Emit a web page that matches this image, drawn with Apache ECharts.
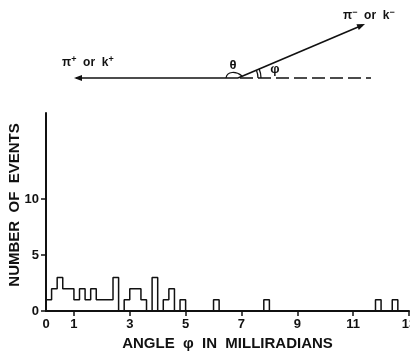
<!DOCTYPE html>
<html>
<head>
<meta charset="utf-8">
<script src="https://cdn.jsdelivr.net/npm/echarts@6/dist/echarts.min.js"></script>
<style>
  html, body { margin: 0; padding: 0; background: #fff; }
  #chart { width: 410px; height: 351px; }
</style>
</head>
<body>
<div id="chart"></div>
<script>
// Histogram of the opening angle φ (milliradians), 0.2 mrad bins.
const binWidth = 0.2;
const binStarts = [0, 0.2, 0.4, 0.6, 0.8, 1.0, 1.2, 1.4, 1.6, 1.8, 2.0, 2.2, 2.4,
                   2.8, 3.0, 3.2, 3.4, 3.8, 4.2, 4.4, 4.8, 6.0, 7.8, 11.8, 12.4];
const eventCounts = [1, 2, 3, 2, 2, 1, 2, 1, 2, 1, 1, 1, 3,
                     1, 2, 2, 1, 3, 1, 2, 1, 1, 1, 1, 1];

const xMin = 0, xMax = 13;
const xTickValues = [1, 3, 5, 7, 9, 11, 13];
const xLabelValues = [0, 1, 3, 5, 7, 9, 11, 13];
const yMax = 17.7;
const yTickValues = [0, 5, 10];
const yLabelValues = [0, 5, 10];

// Build the histogram outline as a step line over every bin edge.
const nBins = Math.round((xMax - xMin) / binWidth);
const countByBin = {};
binStarts.forEach((b, i) => { countByBin[Math.round(b / binWidth)] = eventCounts[i]; });
const outline = [];
for (let k = 0; k < nBins; k++) {
  const x = +(xMin + k * binWidth).toFixed(4);
  outline.push([x, countByBin[k] || 0]);
}
outline.push([xMax, 0]);

const FONT = '"Liberation Sans", Arial, sans-serif';

// Decay sketch above the histogram
const vx = 238, vy = 78;           // vertex
const tipR = [365, 24];            // π⁻ / k⁻ track tip
const tipL = [74, 78];             // π⁺ / k⁺ track tip
const ang = Math.atan2(tipR[1] - vy, tipR[0] - vx);

function arrowHead(tip, a, len, half) {
  const bx = tip[0] - len * Math.cos(a), by = tip[1] - len * Math.sin(a);
  const nx = -Math.sin(a), ny = Math.cos(a);
  return [[tip[0], tip[1]], [bx + half * nx, by + half * ny], [bx - half * nx, by - half * ny]];
}

const ink = '#111';
const supStyle = { fontSize: 9, fontWeight: 'bold', fontFamily: FONT, verticalAlign: 'top', padding: [0, 0, 7, 0] };
const sketch = [
  { type: 'line', shape: { x1: tipL[0] + 2, y1: tipL[1], x2: vx, y2: vy }, style: { stroke: ink, lineWidth: 1.6 } },
  { type: 'polygon', shape: { points: arrowHead(tipL, Math.PI, 8, 3) }, style: { fill: ink } },
  { type: 'line', shape: { x1: vx, y1: vy, x2: tipR[0] - 3 * Math.cos(ang), y2: tipR[1] - 3 * Math.sin(ang) }, style: { stroke: ink, lineWidth: 1.6 } },
  { type: 'polygon', shape: { points: arrowHead(tipR, ang, 8, 3) }, style: { fill: ink } },
  { type: 'line', shape: { x1: vx + 2, y1: vy, x2: 371, y2: vy }, style: { stroke: ink, lineWidth: 1.4, lineDash: [13, 5] } },
  // θ arc
  { type: 'bezierCurve', shape: { x1: 226, y1: 78, cpx1: 227, cpy1: 71, cpx2: 236, cpy2: 71, x2: 242, y2: 76 }, style: { stroke: ink, lineWidth: 1.2, fill: null } },
  // φ double arc
  { type: 'arc', shape: { cx: vx, cy: vy, r: 20, startAngle: ang, endAngle: 0 }, style: { stroke: ink, lineWidth: 1.3, fill: null } },
  { type: 'arc', shape: { cx: vx, cy: vy, r: 23, startAngle: ang, endAngle: 0 }, style: { stroke: ink, lineWidth: 1.3, fill: null } },
  { type: 'text', x: 233, y: 65, style: { text: 'θ', font: 'bold 13px ' + FONT, fill: ink, align: 'center', verticalAlign: 'middle' } },
  { type: 'text', x: 275, y: 69, style: { text: 'φ', font: 'bold 13px ' + FONT, fill: ink, align: 'center', verticalAlign: 'middle' } },
  { type: 'text', x: 62, y: 63, style: {
      text: 'π{s|+}  or  k{s|+}', fill: ink, font: 'bold 12px ' + FONT, verticalAlign: 'middle',
      rich: { s: supStyle } } },
  { type: 'text', x: 343, y: 16, style: {
      text: 'π{s|−}  or  k{s|−}', fill: ink, font: 'bold 12px ' + FONT, verticalAlign: 'middle',
      rich: { s: supStyle } } },
  // y-axis title
  { type: 'text', x: 15, y: 205, rotation: Math.PI / 2, style: {
      text: 'NUMBER  OF  EVENTS', font: 'bold 15px ' + FONT, fill: ink, align: 'center', verticalAlign: 'middle' } }
];

const chart = echarts.init(document.getElementById('chart'), null, { renderer: 'canvas' });
chart.setOption({
  animation: false,
  backgroundColor: '#fff',
  grid: { left: 46, right: 1, top: 113, bottom: 40, containLabel: false, outerBoundsMode: 'none' },
  xAxis: {
    type: 'value', min: xMin, max: xMax,
    axisLine: { show: true, lineStyle: { color: ink, width: 2 } },
    axisTick: { show: true, customValues: xTickValues, length: 5, lineStyle: { color: ink, width: 1.5 } },
    axisLabel: { customValues: xLabelValues, color: ink, fontSize: 13, fontWeight: 'bold', fontFamily: FONT, margin: 7 },
    splitLine: { show: false },
    name: 'ANGLE  φ  IN  MILLIRADIANS', nameLocation: 'middle', nameGap: 25,
    nameTextStyle: { color: ink, fontSize: 15, fontWeight: 'bold', fontFamily: FONT }
  },
  yAxis: {
    type: 'value', min: 0, max: yMax,
    axisLine: { show: true, lineStyle: { color: ink, width: 2 } },
    axisTick: { show: true, customValues: yTickValues, length: 5, lineStyle: { color: ink, width: 1.5 } },
    axisLabel: { customValues: yLabelValues, color: ink, fontSize: 13, fontWeight: 'bold', fontFamily: FONT, margin: 7 },
    splitLine: { show: false }
  },
  series: [{
    type: 'line', step: 'end', data: outline, symbol: 'none', clip: false,
    lineStyle: { color: ink, width: 1.5 }
  }],
  graphic: sketch
});
</script>
</body>
</html>
